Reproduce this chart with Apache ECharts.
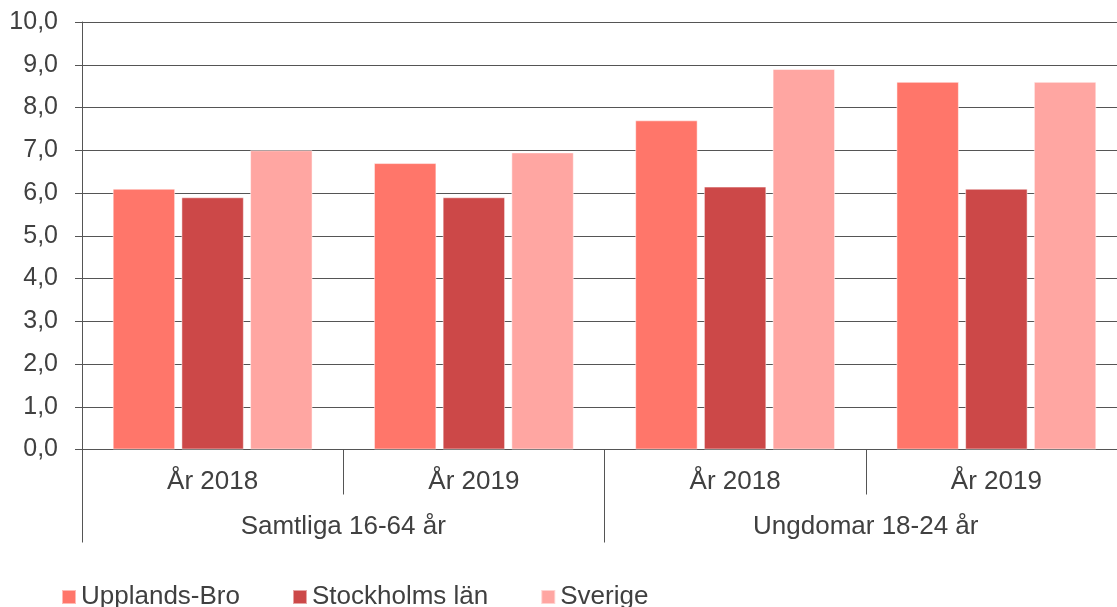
<!DOCTYPE html>
<html>
<head>
<meta charset="utf-8">
<script src="https://cdn.jsdelivr.net/npm/echarts@6/dist/echarts.min.js"></script>
<style>
  html, body { margin: 0; padding: 0; background: #fff; }
  #main { width: 1117px; height: 607px; }
</style>
</head>
<body>
<div id="main"></div>
<script>
// kategorier
var years = ['År 2018', 'År 2019', 'År 2018', 'År 2019'];
var groups = ['Samtliga 16-64 år', 'Ungdomar 18-24 år'];
// värden per serie
var upplandsBro = [6.1, 6.7, 7.7, 8.6];
var stockholmsLan = [5.9, 5.9, 6.15, 6.1];
var sverige = [7.0, 6.95, 8.9, 8.6];

var textColor = '#404040';
var lineColor = '#555555';
var font = 'Liberation Sans, Arial, sans-serif';

var chartDom = document.getElementById('main');
var myChart = echarts.init(chartDom);

var option = {
    animation: false,
    color: ['#FF766A', '#CC4848', '#FFA6A2'],
    grid: {
        left: 82,
        width: 1045,
        top: 22,
        bottom: 157.5,
        containLabel: false,
        outerBoundsMode: 'none'
    },
    legend: {
        left: 56,
        top: 579,
        itemWidth: 14,
        itemHeight: 14,
        itemGap: 52,
        icon: 'rect',
        textStyle: { color: textColor, fontSize: 26, fontFamily: font },
        data: ['Upplands-Bro', 'Stockholms län', 'Sverige']
    },
    xAxis: [
        {
            type: 'category',
            data: years,
            position: 'bottom',
            axisLine: { show: true, lineStyle: { color: lineColor, width: 1 } },
            axisTick: { show: true, length: 45, interval: 0, lineStyle: { color: lineColor } },
            axisLabel: { margin: 19, color: textColor, fontSize: 26, fontFamily: font, interval: 0 },
            splitLine: { show: false }
        },
        {
            type: 'category',
            data: groups,
            position: 'bottom',
            axisLine: { show: false },
            axisTick: { show: true, length: 93, interval: 0, lineStyle: { color: lineColor } },
            axisLabel: { margin: 64, color: textColor, fontSize: 26, fontFamily: font, interval: 0 },
            splitLine: { show: false }
        }
    ],
    yAxis: {
        type: 'value',
        min: 0,
        max: 10,
        interval: 1,
        axisLine: { show: true, lineStyle: { color: lineColor } },
        axisTick: { show: true, length: 7, lineStyle: { color: lineColor } },
        axisLabel: {
            margin: 24,
            color: textColor,
            fontSize: 25,
            fontFamily: font,
            formatter: function (v) { return v.toFixed(1).replace('.', ','); }
        },
        splitLine: { show: true, lineStyle: { color: lineColor, width: 1 } }
    },
    series: [
        {
            name: 'Upplands-Bro',
            type: 'bar',
            data: upplandsBro,
            barGap: '10%',
            barCategoryGap: '23.5%',
            itemStyle: { borderColor: 'rgba(255,255,255,0.5)', borderWidth: 1 }
        },
        {
            name: 'Stockholms län',
            type: 'bar',
            data: stockholmsLan,
            itemStyle: { borderColor: 'rgba(255,255,255,0.5)', borderWidth: 1 }
        },
        {
            name: 'Sverige',
            type: 'bar',
            data: sverige,
            itemStyle: { borderColor: 'rgba(255,255,255,0.5)', borderWidth: 1 }
        }
    ]
};

option && myChart.setOption(option);
</script>
</body>
</html>
